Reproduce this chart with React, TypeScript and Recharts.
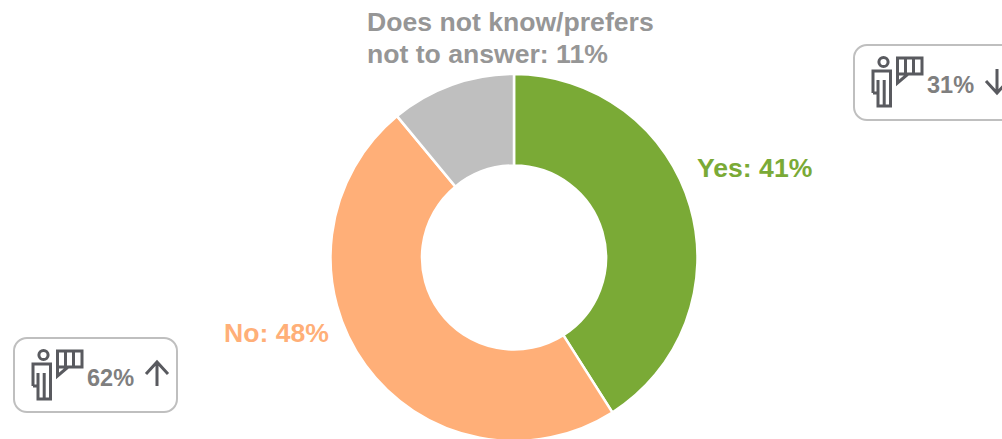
import { PieChart, Pie, Cell } from 'recharts'

const categories = ['Yes', 'No', 'Does not know/prefers not to answer']
const shares = [41, 48, 11]
const sliceColors = ['#7aaa36', '#ffaf78', '#bfbfbf']

const FONT = '"Liberation Sans", Arial, sans-serif'

function Badge({ left, top, width, height, value, up }: { left: number; top: number; width: number; height: number; value: string; up: boolean }) {
    return (
        <div style={{ position: 'absolute', left, top, width, height, boxSizing: 'border-box', border: '2px solid #bfbfbf', borderRadius: 14, background: '#fff' }}>
            <svg width={width} height={height} style={{ position: 'absolute', left: -2, top: -2, overflow: 'visible' }}>
                <g fill="none" stroke="#595a5f" strokeWidth={3}>
                    <circle cx={30.5} cy={18} r={4.6} />
                    <path d="M20 49 V27 H37.5 V62 H25 V36 M31.2 36 V62 M20 49 H25" />
                    <path d="M44.5 14 H69 V30 H44.5 Z M44.5 30 V39 L55 30 M52.5 14 V30 M60.5 14 V30" />
                </g>
                <text x={74} y={49} fontFamily={FONT} fontWeight="bold" fontSize={23.5} fill="#7f7f7f">{value}</text>
                <g fill="none" stroke="#595a5f" strokeWidth={3}>
                    {up
                        ? <path d="M144 49 V25 M133 37 L144 25 L155 37" />
                        : <path d="M144 25 V49 M133 37 L144 49 L155 37" />}
                </g>
            </svg>
        </div>
    )
}

function SliceLabel({ left, top, color, lines }: { left: number; top: number; color: string; lines: string[] }) {
    return (
        <div style={{ position: 'absolute', left, top, color, fontFamily: FONT, fontWeight: 'bold', fontSize: 26.6, lineHeight: '32px', whiteSpace: 'nowrap' }}>
            {lines.map((l) => <div key={l}>{l}</div>)}
        </div>
    )
}

export default function App() {
    const data = categories.map((name, i) => ({ name, value: shares[i] }))
    return (
        <div style={{ position: 'absolute', left: 0, top: 0, width: 1002, height: 439, overflow: 'hidden', background: '#fff' }}>
            <PieChart width={1002} height={439} margin={{ top: 0, right: 0, bottom: 0, left: 0 }}>
                <Pie
                    data={data}
                    dataKey="value"
                    cx={514}
                    cy={257.5}
                    innerRadius={92}
                    outerRadius={183.5}
                    startAngle={90}
                    endAngle={-270}
                    stroke="#fff"
                    strokeWidth={2.5}
                    isAnimationActive={false}
                >
                    {data.map((d, i) => <Cell key={d.name} fill={sliceColors[i]} />)}
                </Pie>
            </PieChart>
            <SliceLabel left={367} top={6} color="#969696" lines={['Does not know/prefers', `not to answer: ${shares[2]}%`]} />
            <SliceLabel left={697} top={152} color="#7aaa36" lines={[`${categories[0]}: ${shares[0]}%`]} />
            <SliceLabel left={224} top={317} color="#ffaf78" lines={[`${categories[1]}: ${shares[1]}%`]} />
            <Badge left={13} top={337} width={165} height={76} value="62%" up />
            <Badge left={853} top={44} width={165} height={77} value="31%" up={false} />
        </div>
    )
}
